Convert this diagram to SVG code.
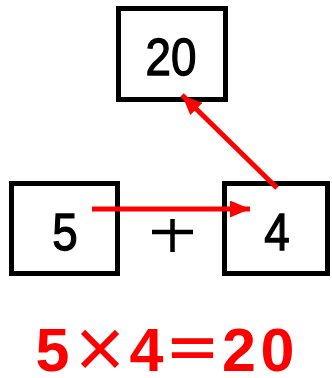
<svg xmlns="http://www.w3.org/2000/svg" width="332" height="378" viewBox="0 0 332 378">
<style>
.box{fill:#fff;stroke:#000;stroke-width:5}
.num{font-family:"Liberation Sans",Arial,sans-serif;font-size:52px;fill:#000;stroke:#000;stroke-width:1.3;text-anchor:middle}
.eq{font-family:"Liberation Sans",Arial,sans-serif;font-weight:bold;font-size:61px;fill:#ff0000;text-anchor:middle}
.sym{font-family:"Noto Sans CJK JP",sans-serif;font-weight:bold;font-size:58px}
.arr{stroke:#ff0000;stroke-width:5;fill:none}
</style>
<defs>
<marker id="ah" markerWidth="4" markerHeight="3.4" refX="4" refY="1.7" orient="auto" markerUnits="strokeWidth">
<path d="M0,0 L4,1.7 L0,3.4 Z" fill="#ff0000"/>
</marker>
</defs>
<rect width="332" height="378" fill="#fff"/>
<g id="node-20">
<rect class="box" x="118.5" y="8.5" width="107" height="91" stroke-width="4.5"/>
<text class="num" transform="translate(171,75) scale(0.88,1)">20</text>
</g>
<g id="node-5">
<rect class="box" x="11.5" y="183.5" width="106" height="90"/>
<text class="num" transform="translate(65,250) scale(0.88,1)">5</text>
</g>
<g id="plus">
<path d="M152,232 H193 M172.5,219 V252" stroke="#000" stroke-width="4.5" fill="none"/>
</g>
<g id="node-4">
<rect class="box" x="224.5" y="183.5" width="103" height="90"/>
<text class="num" transform="translate(277,250) scale(0.88,1)">4</text>
</g>
<g id="connectors">
<path class="arr" d="M92,209 H250" marker-end="url(#ah)"/>
<path class="arr" d="M277,188 L182,95" marker-end="url(#ah)"/>
</g>
<g id="equation">
<text class="eq" x="52.5" y="371">5</text>
<text class="eq sym" x="100" y="371">×</text>
<text class="eq" x="146.5" y="371">4</text>
<text class="eq sym" x="192.5" y="371">＝</text>
<text class="eq" x="239" y="371">2</text>
<text class="eq" x="277.5" y="371">0</text>
</g>
</svg>
